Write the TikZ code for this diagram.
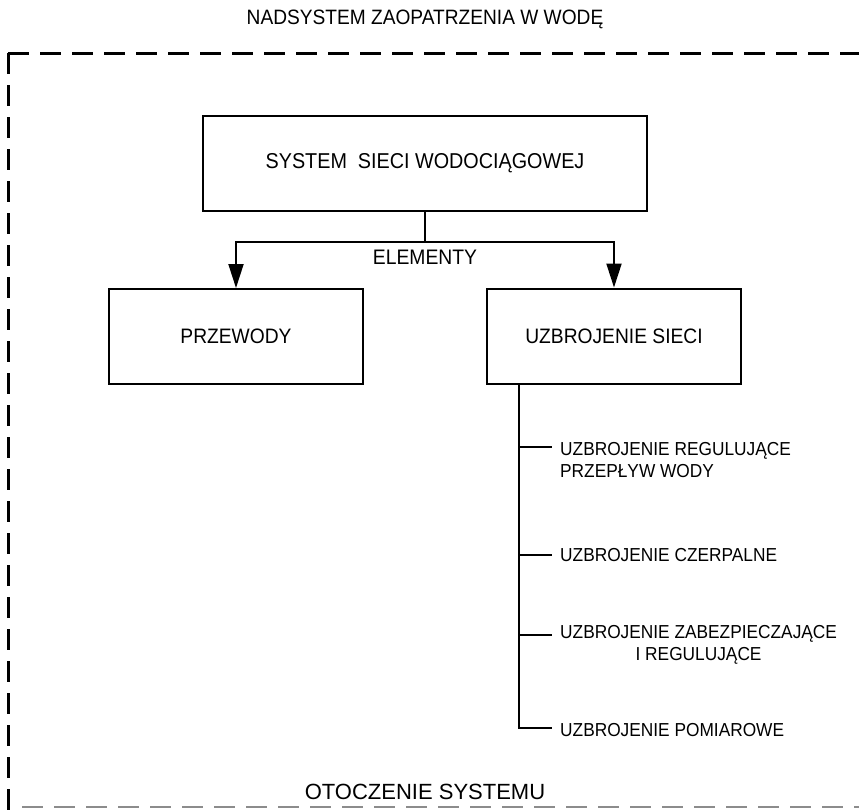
\documentclass[tikz,border=0pt]{standalone}
\usepackage{fontspec}
\setmainfont{Liberation Sans}
\newfontfamily\narrowsans[FakeStretch=0.92]{Liberation Sans}
\usetikzlibrary{arrows.meta}
\begin{document}
\begin{tikzpicture}[x=1pt,y=-1pt,
  box/.style={draw,line width=2pt,minimum width=254pt,minimum height=95pt,inner sep=0pt,font=\narrowsans\fontsize{20.9}{25}\selectfont},
  conn/.style={line width=2pt},
  arr/.style={conn,-{Triangle[length=24pt,width=15pt]}},
  item/.style={anchor=west,inner sep=0pt,font=\narrowsans\fontsize{18.8}{22}\selectfont},
  border/.style={line width=3pt,dash pattern=on 21pt off 11pt},
  lowborder/.style={line width=2pt,draw=black!45,dash pattern=on 21pt off 11pt},
  caption/.style={inner sep=0pt}]
\useasboundingbox (0,0) rectangle (859,809);
% outer boundary
\draw[border] (8,53) -- (875,53);
\draw[border] (8,53) -- (8,830);
\draw[lowborder] (22,807) -- (875,807);
% captions
\node[caption,font=\narrowsans\fontsize{20.8}{25}\selectfont] (title) at (425,19) {NADSYSTEM ZAOPATRZENIA W WODĘ};
\node[caption,font=\fontsize{22}{26}\selectfont] (env) at (425,792) {OTOCZENIE SYSTEMU};
% boxes
\node[box,minimum width=444pt,font=\narrowsans\fontsize{21.5}{26}\selectfont] (main) at (425,163.5) {SYSTEM\ \ SIECI WODOCIĄGOWEJ};
\node[box] (przewody) at (236,336.5) {PRZEWODY};
\node[box] (uzb) at (614,336) {UZBROJENIE SIECI};
% connectors
\coordinate (j) at (425,242);
\draw[conn] (main.south) -- (main.south |- j);
\draw[arr] (main.south |- j) -| (przewody.north);
\draw[arr] (main.south |- j) -| (uzb.north);
\node[caption,font=\narrowsans\fontsize{21}{25}\selectfont] (elem) at (425,257) {ELEMENTY};
% items
\node[item,align=left] (i1) at (560,460) {UZBROJENIE REGULUJĄCE\\PRZEPŁYW WODY};
\node[item] (i2) at (560,555) {UZBROJENIE CZERPALNE};
\node[item,align=center] (i3) at (560,645) {UZBROJENIE ZABEZPIECZAJĄCE\\I REGULUJĄCE};
\node[item] (i4) at (560,730) {UZBROJENIE POMIAROWE};
\coordinate (sptop) at ([xshift=33pt]uzb.south west);
\coordinate (t1) at (552,447);
\coordinate (t2) at (552,555);
\coordinate (t3) at (552,635);
\coordinate (t4) at (552,728);
\draw[conn] (sptop) -- (sptop |- t4) -- (t4);
\draw[conn] (sptop |- t1) -- (t1);
\draw[conn] (sptop |- t2) -- (t2);
\draw[conn] (sptop |- t3) -- (t3);
\end{tikzpicture}
\end{document}
